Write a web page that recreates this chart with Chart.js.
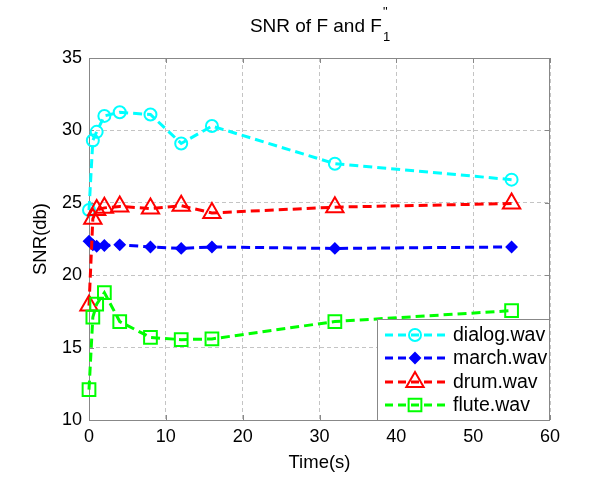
<!DOCTYPE html>
<html>
<head>
<meta charset="utf-8">
<script src="https://cdn.jsdelivr.net/npm/chart.js@4"></script>
<style>
  html, body { margin: 0; padding: 0; background: #fff; }
</style>
</head>
<body>
<canvas id="snrChart" width="600" height="494"></canvas>
<script>
// time points (s)
var times = [0, 0.5, 1, 2, 4, 8, 12, 16, 32, 55];

// SNR values (db) for each file
var dialogSnr = [24.5, 29.3, 29.9, 31.0, 31.25, 31.1, 29.1, 30.3, 27.7, 26.6];
var marchSnr = [22.35, 22.1, 22.0, 22.05, 22.1, 21.95, 21.85, 21.95, 21.85, 21.95];
var drumSnr = [17.9, 23.9, 24.5, 24.65, 24.75, 24.6, 24.8, 24.3, 24.7, 24.95];
var fluteSnr = [12.1, 17.1, 18.0, 18.8, 16.8, 15.7, 15.55, 15.6, 16.8, 17.55];

var seriesNames = ['dialog.wav', 'march.wav', 'drum.wav', 'flute.wav'];

var xTicks = [0, 10, 20, 30, 40, 50, 60];
var yTicks = [10, 15, 20, 25, 30, 35];

var FONT = "'Liberation Sans', Arial, sans-serif";

function toPoints(ys) {
  var pts = [];
  for (var i = 0; i < times.length; i++) {
    pts.push({ x: times[i], y: ys[i] });
  }
  return pts;
}

// marker looks, shared between the chart and the hand drawn legend
var styles = [
  { color: '#00ffff', pointStyle: 'circle', radius: 6, fill: 'rgba(0,0,0,0)' },
  { color: '#0000ff', pointStyle: 'rectRot', radius: 5, fill: '#0000ff' },
  { color: '#ff0000', pointStyle: 'triangle', radius: 10, fill: 'rgba(0,0,0,0)' },
  { color: '#00ff00', pointStyle: 'rect', radius: 9, fill: 'rgba(0,0,0,0)' }
];
var seriesData = [dialogSnr, marchSnr, drumSnr, fluteSnr];

var datasets = [];
for (var s = 0; s < seriesData.length; s++) {
  datasets.push({
    label: seriesNames[s],
    data: toPoints(seriesData[s]),
    borderColor: styles[s].color,
    backgroundColor: styles[s].color,
    borderWidth: 3,
    borderDash: [9, 5],
    tension: 0,
    clip: false,
    pointStyle: styles[s].pointStyle,
    pointRadius: styles[s].radius,
    pointBorderWidth: 2,
    pointBorderColor: styles[s].color,
    pointBackgroundColor: styles[s].fill,
    order: seriesData.length - s // later series on top, like MATLAB
  });
}

// small marker painter for the legend
function drawMarker(ctx, st, x, y) {
  ctx.save();
  ctx.setLineDash([]);
  ctx.lineWidth = 2;
  ctx.strokeStyle = st.color;
  ctx.fillStyle = st.fill;
  ctx.beginPath();
  var r = st.radius;
  if (st.pointStyle === 'circle') {
    ctx.arc(x, y, r, 0, Math.PI * 2);
  } else if (st.pointStyle === 'rectRot') {
    ctx.moveTo(x, y - r); ctx.lineTo(x + r, y); ctx.lineTo(x, y + r); ctx.lineTo(x - r, y);
    ctx.closePath();
  } else if (st.pointStyle === 'triangle') {
    for (var k = 0; k < 3; k++) {
      var a = k * 2 * Math.PI / 3;
      var px = x + Math.sin(a) * r, py = y - Math.cos(a) * r;
      if (k === 0) ctx.moveTo(px, py); else ctx.lineTo(px, py);
    }
    ctx.closePath();
  } else {
    var h = r * Math.SQRT1_2;
    ctx.rect(x - h, y - h, 2 * h, 2 * h);
  }
  ctx.fill();
  ctx.stroke();
  ctx.restore();
}

var axesBox = {
  id: 'axesBox',
  beforeDatasetsDraw: function(chart) {
    var ctx = chart.ctx, a = chart.chartArea;
    var xs = chart.scales.x, ys = chart.scales.y;
    ctx.save();
    ctx.strokeStyle = '#888888';
    ctx.lineWidth = 1;
    ctx.setLineDash([]);
    ctx.strokeRect(a.left + 0.5, a.top + 0.5, a.right - a.left - 1, a.bottom - a.top);
    // inner tick marks on all four sides
    ctx.beginPath();
    xTicks.forEach(function(v) {
      var px = Math.round(xs.getPixelForValue(v)) + 0.5;
      ctx.moveTo(px, a.bottom); ctx.lineTo(px, a.bottom - 5);
      ctx.moveTo(px, a.top); ctx.lineTo(px, a.top + 5);
    });
    yTicks.forEach(function(v) {
      var py = Math.round(ys.getPixelForValue(v)) + 0.5;
      ctx.moveTo(a.left, py); ctx.lineTo(a.left + 5, py);
      ctx.moveTo(a.right, py); ctx.lineTo(a.right - 5, py);
    });
    ctx.stroke();
    ctx.restore();
  },
  afterDraw: function(chart) {
    var ctx = chart.ctx, a = chart.chartArea;
    ctx.save();

    // title with sub/superscript
    var main = 'SNR of F and F';
    ctx.fillStyle = '#000';
    ctx.font = '19px ' + FONT;
    var wMain = ctx.measureText(main).width;
    ctx.font = '13px ' + FONT;
    var wSub = ctx.measureText('1').width;
    var cx = (a.left + a.right) / 2;
    var x0 = cx - (wMain + wSub) / 2;
    ctx.textAlign = 'left';
    ctx.textBaseline = 'alphabetic';
    ctx.font = '19px ' + FONT;
    ctx.fillText(main, x0, 32);
    ctx.font = '13px ' + FONT;
    ctx.fillText('"', x0 + wMain + 1, 16);
    ctx.fillText('1', x0 + wMain + 1, 41);

    // legend box in lower right
    var lx = 377, ly = 319, lw = a.right - lx, lh = a.bottom - ly;
    ctx.fillStyle = '#fff';
    ctx.fillRect(lx, ly, lw, lh);
    ctx.strokeStyle = '#888888';
    ctx.lineWidth = 1;
    ctx.strokeRect(lx + 0.5, ly + 0.5, lw - 1, lh);
    var rows = [335, 358, 382, 405];
    for (var i = 0; i < seriesNames.length; i++) {
      var st = styles[i], yy = rows[i];
      ctx.strokeStyle = st.color;
      ctx.lineWidth = 3;
      ctx.setLineDash([8, 5]);
      ctx.beginPath();
      ctx.moveTo(385, yy); ctx.lineTo(446, yy);
      ctx.stroke();
      ctx.setLineDash([]);
      drawMarker(ctx, st, 415, yy);
      ctx.fillStyle = '#000';
      ctx.font = '19.5px ' + FONT;
      ctx.textBaseline = 'middle';
      ctx.fillText(seriesNames[i], 453, yy + 1);
    }
    ctx.restore();
  }
};

var ctx = document.getElementById('snrChart').getContext('2d');
new Chart(ctx, {
  type: 'line',
  data: { datasets: datasets },
  plugins: [axesBox],
  options: {
    responsive: false,
    animation: false,
    devicePixelRatio: 1,
    layout: { padding: { top: 58, right: 50, left: 0, bottom: 0 } },
    plugins: {
      legend: { display: false },
      title: { display: false },
      tooltip: { enabled: false }
    },
    scales: {
      x: {
        type: 'linear',
        min: 0,
        max: 60,
        afterFit: function(scale) { scale.height = 74; },
        afterBuildTicks: function(scale) {
          scale.ticks = xTicks.map(function(v) { return { value: v }; });
        },
        grid: { color: '#c4c4c4', lineWidth: 1, drawTicks: false },
        border: { display: false, dash: [4, 3] },
        ticks: { color: '#000', padding: 6, font: { size: 18, family: FONT }, maxRotation: 0 },
        title: { display: true, text: 'Time(s)', color: '#000', font: { size: 18.5, family: FONT }, padding: { top: 0, bottom: 20 } }
      },
      y: {
        type: 'linear',
        min: 10,
        max: 35,
        afterFit: function(scale) { scale.width = 89; },
        afterBuildTicks: function(scale) {
          scale.ticks = yTicks.map(function(v) { return { value: v }; });
        },
        grid: { color: '#c4c4c4', lineWidth: 1, drawTicks: false },
        border: { display: false, dash: [4, 3] },
        ticks: { color: '#000', padding: 7, font: { size: 18, family: FONT } },
        title: { display: true, text: 'SNR(db)', color: '#000', font: { size: 18.5, family: FONT }, padding: { top: 30, bottom: 0 } }
      }
    }
  }
});
</script>
</body>
</html>
